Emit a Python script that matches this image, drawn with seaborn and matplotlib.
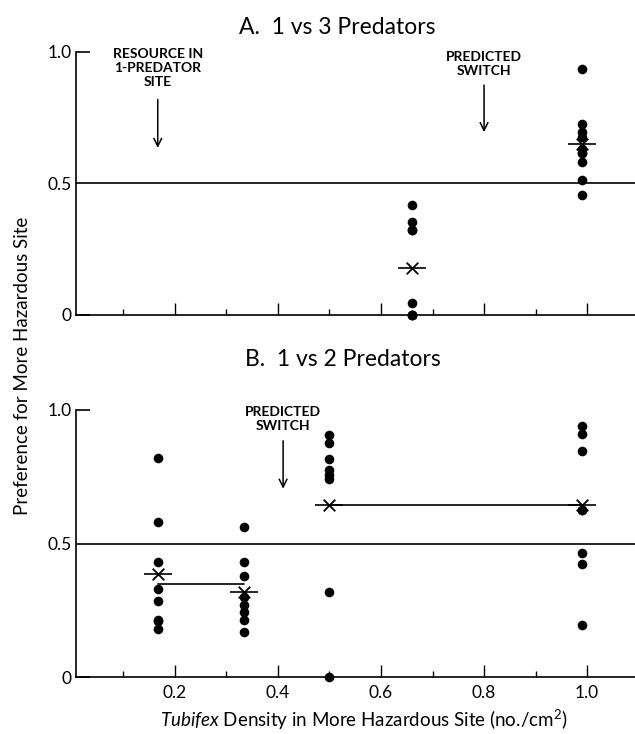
import numpy as np
import pandas as pd
import matplotlib
matplotlib.use("Agg")
import matplotlib.pyplot as plt
import seaborn as sns

# ---------------- data ----------------
# Panel A: 1 vs 3 predators
a_density = [0.66, 0.99]
a_values = [
    [0.42, 0.355, 0.325, 0.325, 0.047, 0.0, 0.0, 0.0],
    [0.935, 0.725, 0.695, 0.675, 0.63, 0.615, 0.615, 0.58, 0.515, 0.455],
]
a_means = [0.18, 0.65]

# Panel B: 1 vs 2 predators
b_density = [1 / 6, 1 / 3, 0.5, 0.99]
b_values = [
    [0.82, 0.58, 0.43, 0.33, 0.285, 0.215, 0.21, 0.18],
    [0.56, 0.43, 0.38, 0.30, 0.27, 0.245, 0.215, 0.17],
    [0.905, 0.875, 0.815, 0.775, 0.757, 0.74, 0.32, 0.0],
    [0.94, 0.91, 0.845, 0.625, 0.625, 0.465, 0.425, 0.195],
]
b_means = [0.385, 0.32, 0.645, 0.645]
b_pooled_x = [[1 / 6, 1 / 3], [0.5, 0.99]]
b_pooled_y = [0.35, 0.645]

x_major = [0.2, 0.4, 0.6, 0.8, 1.0]
x_major_labels = ["0.2", "0.4", "0.6", "0.8", "1.0"]
x_minor = [0.1, 0.3, 0.5, 0.7, 0.9]
y_ticks = [0, 0.5, 1.0]
y_labels = ["0", "0.5", "1.0"]

a_title = "A.  1 vs 3 Predators"
b_title = "B.  1 vs 2 Predators"
a_notes = [("RESOURCE IN\n1-PREDATOR\nSITE", 1 / 6, 0.94, 0.83, 0.625),
           ("PREDICTED\nSWITCH", 0.8, 0.955, 0.885, 0.685)]
b_notes = [("PREDICTED\nSWITCH", 0.41, 0.965, 0.895, 0.695)]

# ---------------- style ----------------
sns.set_theme(style="ticks")
plt.rcParams["font.family"] = ["Lato", "DejaVu Sans"]
plt.rcParams["mathtext.fontset"] = "custom"
plt.rcParams["mathtext.rm"] = "Lato"
plt.rcParams["mathtext.it"] = "Lato:italic"

fig = plt.figure(figsize=(6.35, 7.34), dpi=100)
W, H = 635, 734


def make_ax(y0px, y1px):
    left = 76 / W
    bottom = (H - y0px) / H
    height = (y0px - y1px) / H
    return fig.add_axes([left, bottom, 1 - left, height])


def style_ax(ax, show_xlabels):
    ax.set_xlim(0.008, 1.093)
    ax.set_ylim(0, 1.0)
    for s in ["top", "right"]:
        ax.spines[s].set_visible(False)
    ax.spines["left"].set_bounds(0, 1.0)
    for s in ["left", "bottom"]:
        ax.spines[s].set_linewidth(1.2)
        ax.spines[s].set_color("black")
    ax.set_xticks(x_major)
    ax.set_xticks(x_minor, minor=True)
    ax.set_xticklabels(x_major_labels if show_xlabels else [])
    ax.set_yticks(y_ticks)
    ax.set_yticklabels(y_labels)
    ax.tick_params(axis="x", which="major", direction="in", length=8.5,
                   width=1.0, labelsize=12.5, pad=6, colors="black")
    ax.tick_params(axis="x", which="minor", direction="in", length=4.3,
                   width=1.0, colors="black")
    ax.tick_params(axis="y", direction="in", length=10, width=1.2,
                   labelsize=12.5, pad=3, colors="black")
    ax.set_xlabel("")
    ax.set_ylabel("")
    ax.set_facecolor("white")


def draw_refline(ax):
    ax.plot([0.035, 1.093], [0.5, 0.5], color="black", lw=1.2,
            solid_capstyle="butt")


def draw_points(ax, dens, vals):
    rows = []
    for d, vs in zip(dens, vals):
        for v in vs:
            rows.append({"density": d, "pref": v})
    df = pd.DataFrame(rows)
    sns.scatterplot(data=df, x="density", y="pref", ax=ax, color="black",
                    s=48, edgecolor="black", linewidth=0, clip_on=False,
                    zorder=3, legend=False)


def draw_means(ax, dens, means):
    dfm = pd.DataFrame({"density": dens, "mean": means})
    sns.scatterplot(data=dfm, x="density", y="mean", ax=ax, marker="x",
                    s=70, color="black", linewidth=1.3, zorder=4, legend=False)
    sns.scatterplot(data=dfm, x="density", y="mean", ax=ax, marker="_",
                    s=380, color="black", linewidth=1.2, zorder=4, legend=False)


def draw_notes(ax, notes):
    for txt, x, ty, a0, a1 in notes:
        ax.text(x, ty, txt, ha="center", va="center", fontsize=10,
                fontweight="bold", linespacing=1.2, color="black")
        ax.annotate("", xy=(x, a1), xytext=(x, a0),
                    arrowprops=dict(arrowstyle="->", color="black", lw=1.1,
                                    mutation_scale=14))


# Panel A
axA = make_ax(315, 52)
draw_refline(axA)
draw_points(axA, a_density, a_values)
draw_means(axA, a_density, a_means)
draw_notes(axA, a_notes)
style_ax(axA, show_xlabels=False)

# Panel B
axB = make_ax(677, 410)
draw_refline(axB)
draw_points(axB, b_density, b_values)
for xs, y in zip(b_pooled_x, b_pooled_y):
    sns.lineplot(x=xs, y=[y, y], ax=axB, color="black", lw=1.2,
                 legend=False)
draw_means(axB, b_density, b_means)
draw_notes(axB, b_notes)
style_ax(axB, show_xlabels=True)

fig.text(337 / W, 1 - 28 / H, a_title, ha="center", va="center",
         fontsize=16.5, color="black")
fig.text(343 / W, 1 - 360 / H, b_title, ha="center", va="center",
         fontsize=16.5, color="black")
fig.text(23 / W, 1 - 366 / H, "Preference for More Hazardous Site",
         rotation=90, ha="center", va="center", fontsize=13.5, color="black")
fig.text(364 / W, 1 - 720 / H,
         r"$\it{Tubifex}$ Density in More Hazardous Site (no./cm$^{2}$)",
         ha="center", va="center", fontsize=13.5, color="black")

fig.savefig("out.png", dpi=100, facecolor="white")
